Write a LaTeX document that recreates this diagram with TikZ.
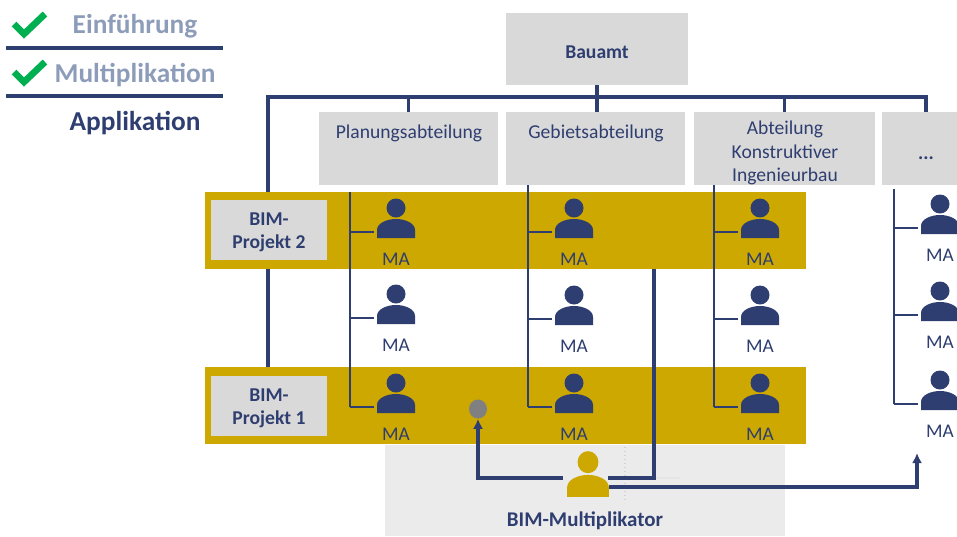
\documentclass[tikz,border=0pt]{standalone}
\usepackage{fontspec}
\usetikzlibrary{shapes.geometric,arrows.meta}
\setmainfont{Carlito}
\definecolor{navy}{HTML}{2F3E70}
\definecolor{paleblue}{HTML}{8D9DB9}
\definecolor{gold}{HTML}{CCA800}
\definecolor{boxgrey}{HTML}{D9D9D9}
\definecolor{areagrey}{HTML}{EBEBEB}
\definecolor{tickgreen}{HTML}{00B050}
\tikzset{
	stage/.style={font=\fontsize{20.5}{22}\selectfont\bfseries},
	dept/.style={fill=boxgrey,inner sep=0pt,minimum height=54.75pt},
	depttext/.style={text=navy,font=\fontsize{14.7}{17.4}\selectfont,align=center,inner sep=0pt},
	boldtext/.style={depttext,font=\fontsize{14.7}{17.4}\selectfont\bfseries},
	band/.style={fill=gold,inner sep=0pt,minimum width=450.75pt,minimum height=57.75pt},
	bimbox/.style={fill=boxgrey,inner sep=0pt,minimum width=87pt,minimum height=45pt},
	maspot/.style={inner sep=0pt,minimum width=33pt,minimum height=4pt},
	malabel/.style={text=navy,font=\fontsize{14.5}{16}\selectfont,inner sep=0pt},
	rail/.style={navy,line width=2.7pt},
	stub/.style={navy,line width=1.9pt},
	arrowline/.style={navy,line width=2.7pt,-{Latex[length=7.5pt,width=7.5pt]}},
	tick/.style={tickgreen,line width=5pt},
	pics/person/.style={code={
		\fill[#1] (0,-24) ellipse (9.5 and 9.5);
		\fill[#1] (-19,6) -- (-19,-2) .. controls (-19,-9) and (-9,-13) .. (0,-13) .. controls (9,-13) and (19,-9) .. (19,-2) -- (19,6) -- cycle;
	}}
}
\begin{document}
\begin{tikzpicture}[x=0.75pt,y=-0.75pt]
	\useasboundingbox (0,0) rectangle (957,536);

	% Stages
	\node[stage,text=paleblue] (einf) at (135,26) {Einführung};
	\node[stage,text=paleblue] (mult) at (135,75) {Multiplikation};
	\node[stage,text=navy] (appl) at (135,123) {Applikation};
	\draw[navy,line width=2.7pt] (6,48) -- (223,48);
	\draw[navy,line width=2.7pt] (6,96) -- (223,96);
	\foreach \y in {0,48}
	\draw[tick,shift={(0,\y)}] (14,24) -- (24,34) -- (45,14);

	% Departments
	\node[fill=boxgrey,inner sep=0pt,minimum width=136.5pt,minimum height=54pt] (bauamt) at (597,49) {};
	\node[boldtext] (t0) at (597,52) {Bauamt};
	\node[dept,minimum width=134.25pt] (d1) at (408.5,148.5) {};
	\node[dept,minimum width=134.25pt] (d2) at (595.5,148.5) {};
	\node[dept,minimum width=135.75pt] (d3) at (784.5,148.5) {};
	\node[dept,minimum width=56.25pt] (d4) at (919.5,148.5) {};
	\node[depttext] (t1) at (409,133.5) {Planungsabteilung};
	\node[depttext] (t2) at (596,133.5) {Gebietsabteilung};
	\node[depttext] (t3) at (785,153) {Abteilung\\Konstruktiver\\Ingenieurbau};
	\node[boldtext] (t4) at (926,158) {...};

	\coordinate (railleft) at (268,97);
	\coordinate (railfoot) at (268,367);
	\coordinate (railright) at (926,97);
	\draw[rail] (bauamt.south) -- (bauamt |- railleft);
	\draw[rail] (railfoot) -- (railleft) -- (railright) -- (railright |- d4.north);
	\foreach \d in {d1,d3}
	\draw[rail] (\d.north) -- (\d |- railleft);
	\draw[rail] (bauamt |- d2.north) -- (bauamt |- railleft);

	% Projects
	\node[band] (band2) at (505.5,230.5) {};
	\node[band] (band1) at (505.5,405.5) {};
	\node[bimbox] (bim2) at (269,230) {};
	\node[bimbox] (bim1) at (269,406) {};
	\node[boldtext] (p2) at (269,232) {BIM-\\Projekt 2};
	\node[boldtext] (p1) at (269,408) {BIM-\\Projekt 1};
	\fill[areagrey] (385,445) rectangle (785,536);
	\node[text=navy,font=\fontsize{15.7}{18}\selectfont\bfseries,inner sep=0pt] (multi) at (585,521) {BIM-Multiplikator};

	% Staff
	\foreach \c/\x/\spine/\top/\ya/\yb/\yc in {1/396/350/192/232/318/407,2/574/528/185/232/319/407,3/760/714/185/232/319/407,4/940/894/189/228/315/404}{
		\coordinate (spine\c) at (\spine,\top);
		\draw[stub] (spine\c) -- (\spine,\yc);
		\foreach \r/\y in {1/\ya,2/\yb,3/\yc}{
			\pic at (\x,\y) {person=navy};
			\node[maspot] (ma\c\r) at (\x,\y) {};
			\node[malabel] (lab\c\r) at (\x,\y+27) {MA};
			\draw[stub] (spine\c |- ma\c\r) -- (ma\c\r.west);
		}
	}

	% Multiplikator
	\draw[gray!35,dotted,line width=1pt] (625,447) -- (625,503);
	\draw[gray!20,line width=1pt] (654,478) -- (680,478);
	\pic[xscale=1.1,yscale=1.16] at (588,490) {person=gold};
	\node[inner sep=0pt,minimum width=31.5pt,minimum height=18pt] (bimma) at (588,485) {};
	\node[ellipse,fill=gray,inner sep=0pt,minimum width=13.5pt,minimum height=14.25pt] (dot) at (478,409) {};
	\coordinate (outleft) at (563,478);
	\coordinate (outmid) at (608,478);
	\coordinate (outright) at (609,487);
	\coordinate (tipright) at (917,453);
	\coordinate (mergetop) at (654,269);
	\draw[arrowline] (outleft) -| (dot.south);
	\draw[rail] (outmid) -| (mergetop);
	\draw[arrowline] (outright) -| (tipright);
\end{tikzpicture}
\end{document}
